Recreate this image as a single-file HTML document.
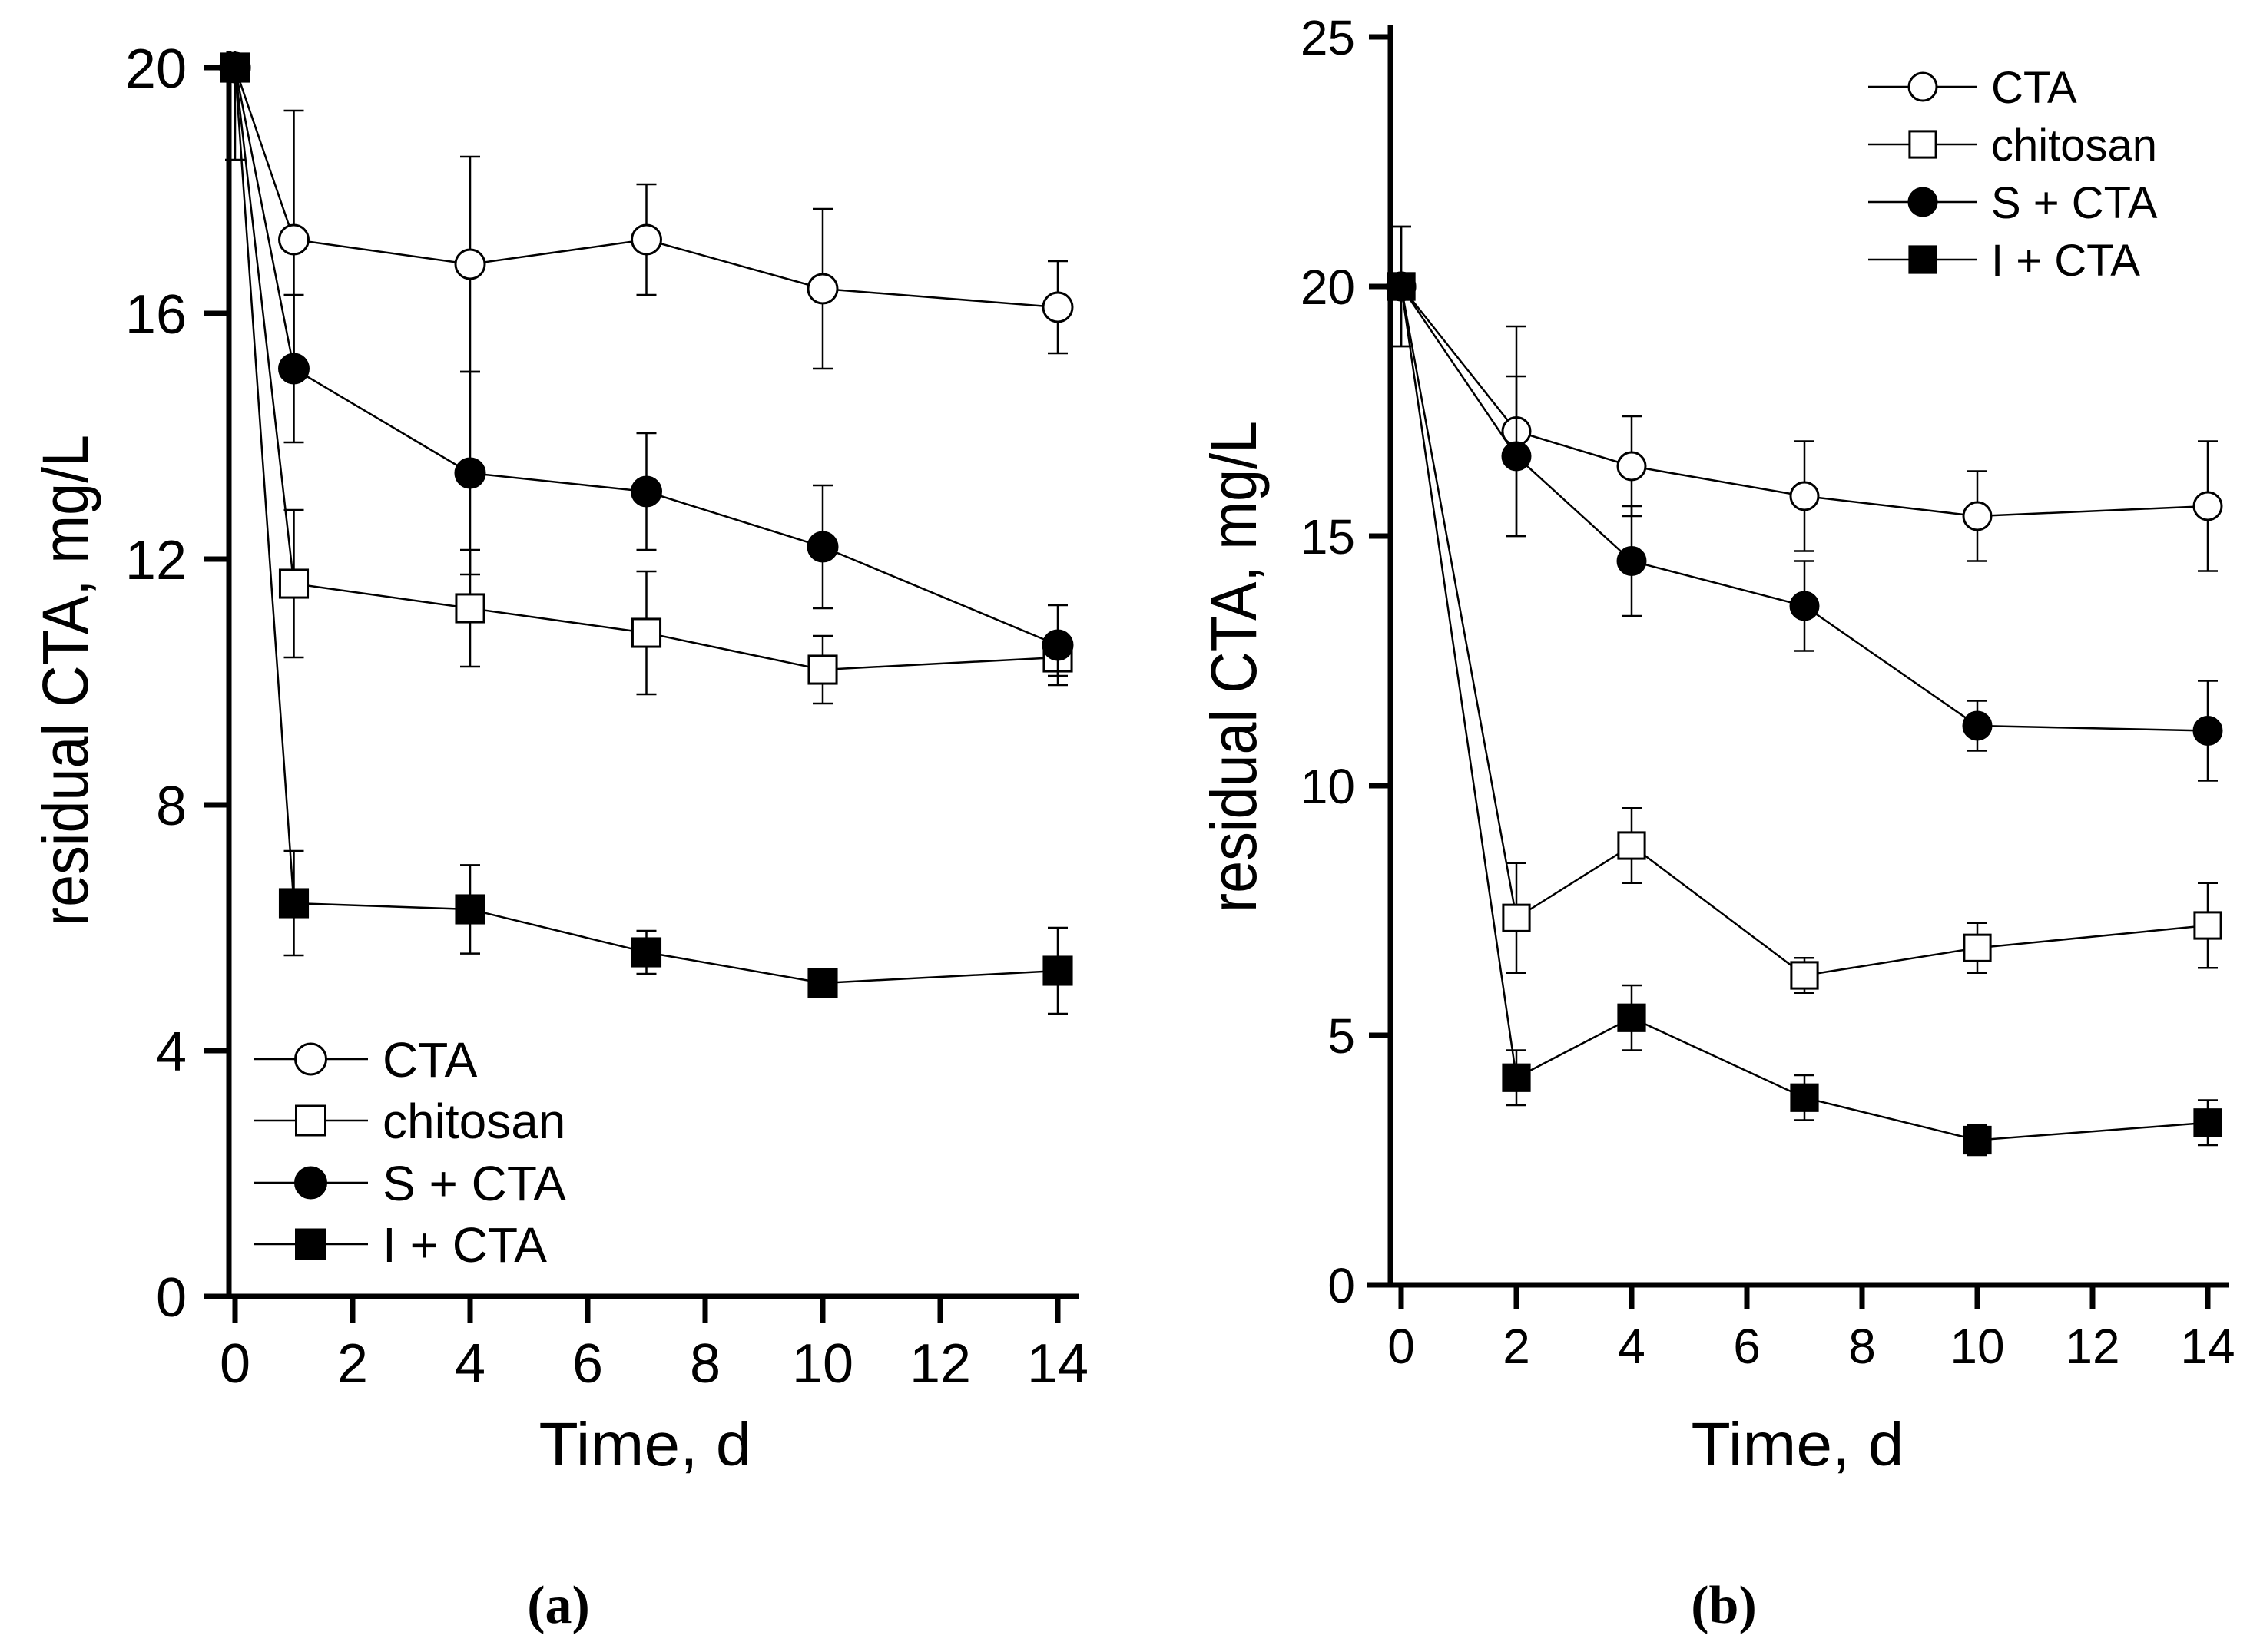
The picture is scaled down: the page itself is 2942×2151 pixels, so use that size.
<!DOCTYPE html>
<html><head><meta charset="utf-8"><style>
html,body{margin:0;padding:0;background:#fff;}
svg{display:block;}
text{font-family:"Liberation Sans",sans-serif;fill:#000;}
</style></head><body>
<svg id="fig" width="2942" height="2151" viewBox="0 0 2942 2151" xmlns="http://www.w3.org/2000/svg"></svg>
<script>
// Panel (a)
const daysA = [0, 1, 4, 7, 10, 14];
const ctaA = [20, 17.2, 16.8, 17.2, 16.4, 16.1];
const ctaErrA = [0, 2.1, 1.75, 0.9, 1.3, 0.75];
const chitA = [20, 11.6, 11.2, 10.8, 10.2, 10.4];
const chitErrA = [1.5, 1.2, 0.95, 1.0, 0.55, 0.3];
const sA = [20, 15.1, 13.4, 13.1, 12.2, 10.6];
const sErrA = [0, 1.2, 1.65, 0.95, 1.0, 0.65];
const iA = [20, 6.4, 6.3, 5.6, 5.1, 5.3];
const iErrA = [0, 0.85, 0.72, 0.35, 0.15, 0.7];
const yTicksA = [0, 4, 8, 12, 16, 20];
// Panel (b)
const daysB = [0, 2, 4, 7, 10, 14];
const ctaB = [20, 17.1, 16.4, 15.8, 15.4, 15.6];
const ctaErrB = [1.2, 2.1, 1.0, 1.1, 0.9, 1.3];
const chitB = [20, 7.35, 8.8, 6.2, 6.75, 7.2];
const chitErrB = [1.2, 1.1, 0.75, 0.35, 0.5, 0.85];
const sB = [20, 16.6, 14.5, 13.6, 11.2, 11.1];
const sErrB = [0, 1.6, 1.1, 0.9, 0.5, 1.0];
const iB = [20, 4.15, 5.35, 3.75, 2.9, 3.25];
const iErrB = [0, 0.55, 0.65, 0.45, 0.3, 0.45];
const yTicksB = [0, 5, 10, 15, 20, 25];
const xTicks = [0, 2, 4, 6, 8, 10, 12, 14];
const seriesNames = ["CTA", "chitosan", "S + CTA", "I + CTA"];

const NS = "http://www.w3.org/2000/svg";
const svg = document.getElementById("fig");
function mk(tag, attrs, parent, txt) {
  const e = document.createElementNS(NS, tag);
  for (const k in attrs) e.setAttribute(k, attrs[k]);
  if (txt !== undefined) e.textContent = txt;
  (parent || svg).appendChild(e);
  return e;
}
function marker(g, kind, cx, cy, r, name) {
  let m;
  if (kind === 0 || kind === 2) {
    m = mk("circle", {cx: cx, cy: cy, r: r, fill: kind === 2 ? "#000" : "#fff", stroke: "#000", "stroke-width": 3}, g);
  } else {
    const s = r * 0.95;
    m = mk("rect", {x: cx - s, y: cy - s, width: 2 * s, height: 2 * s, fill: kind === 3 ? "#000" : "#fff", stroke: "#000", "stroke-width": 3}, g);
  }
  
  
  return m;
}

function panel(cfg) {
  const g = mk("g", {});
  
  
  const X = v => cfg.x0 + (v - 0) * (cfg.x14 - cfg.x0) / 14;
  const Y = v => cfg.y0 - v * (cfg.y0 - cfg.yTop) / cfg.yMax;
  const ax = mk("g", {}, g);
  
  
  mk("line", {x1: cfg.axX, y1: cfg.axTop, x2: cfg.axX, y2: cfg.y0 + 3, stroke: "#000", "stroke-width": 7}, ax);
  mk("line", {x1: cfg.axLeft, y1: cfg.y0, x2: cfg.axRight, y2: cfg.y0, stroke: "#000", "stroke-width": 7}, ax);
  cfg.yTicks.forEach(t => {
    mk("line", {x1: cfg.axX - cfg.tick, y1: Y(t), x2: cfg.axX, y2: Y(t), stroke: "#000", "stroke-width": 7}, ax);
    const tl = mk("text", {x: cfg.yLabRight, y: Y(t) + cfg.tf * 0.36, "font-size": cfg.tf, "text-anchor": "end"}, ax, String(t));
    
    
  });
  xTicks.forEach(t => {
    mk("line", {x1: X(t), y1: cfg.y0, x2: X(t), y2: cfg.y0 + cfg.tick + 3, stroke: "#000", "stroke-width": 7}, ax);
    const tl = mk("text", {x: X(t), y: cfg.xLabBase, "font-size": cfg.tf, "text-anchor": "middle"}, ax, String(t));
    
    
  });
  const xt = mk("text", {x: cfg.xTitleX, y: 1908, "font-size": 80, "text-anchor": "middle", textLength: 277, lengthAdjust: "spacingAndGlyphs"}, g, "Time, d");
  
  
  const yt = mk("text", {x: 0, y: 0, "font-size": 84, "text-anchor": "middle", textLength: 640, lengthAdjust: "spacingAndGlyphs", transform: `translate(${cfg.yTitleX},${cfg.yTitleY}) rotate(-90)`}, g, "residual CTA, mg/L");
  
  
  const cap = mk("text", {x: cfg.capX, y: 2113, "font-size": 70, "font-weight": "bold", "text-anchor": "middle", style: 'font-family:"Liberation Serif",serif'}, g, cfg.caption);
  
  

  cfg.series.forEach((s, k) => {
    const sg = mk("g", {}, g);
    
    
    const pts = cfg.days.map((d, i) => X(d) + "," + Y(s.v[i])).join(" ");
    mk("polyline", {points: pts, fill: "none", stroke: "#000", "stroke-width": 2.5}, sg);
    cfg.days.forEach((d, i) => {
      const e = s.e[i];
      if (e > 0) {
        const eg = mk("g", {stroke: "#000", "stroke-width": 2.5}, sg);
        
        
        let top = Y(s.v[i] + e);
        const clipped = top < cfg.axTop;
        if (clipped) top = cfg.axTop;
        mk("line", {x1: X(d), y1: top, x2: X(d), y2: Y(s.v[i] - e)}, eg);
        if (!clipped) mk("line", {x1: X(d) - 13, y1: top, x2: X(d) + 13, y2: top}, eg);
        mk("line", {x1: X(d) - 13, y1: Y(s.v[i] - e), x2: X(d) + 13, y2: Y(s.v[i] - e)}, eg);
      }
    });
    cfg.days.forEach((d, i) => marker(sg, k, X(d), Y(s.v[i]), cfg.mr, 'data-point'));
  });

  const lg = mk("g", {}, g);
  
  
  seriesNames.forEach((n, k) => {
    const y = cfg.legY[k];
    const le = mk("g", {}, lg);
    
    
    mk("line", {x1: cfg.legL, y1: y, x2: cfg.legR, y2: y, stroke: "#000", "stroke-width": 2.5}, le);
    marker(le, k, (cfg.legL + cfg.legR) / 2, y, cfg.legMr, 'legend-marker');
    mk("text", {x: cfg.legText, y: y + cfg.legF * 0.36, "font-size": cfg.legF}, le, n);
  });
}

panel({
  name: "panel-a", caption: "(a)", capX: 727,
  days: daysA, yTicks: yTicksA, yMax: 20,
  x0: 306, x14: 1377, y0: 1688, yTop: 88,
  axX: 298, axTop: 67, axLeft: 268, axRight: 1405, tick: 32,
  tf: 72, yLabRight: 243, xLabBase: 1800,
  xTitleX: 840, yTitleX: 114, yTitleY: 886, mr: 19,
  series: [{v: ctaA, e: ctaErrA}, {v: chitA, e: chitErrA}, {v: sA, e: sErrA}, {v: iA, e: iErrA}],
  legY: [1379, 1459, 1540, 1620], legL: 330, legR: 479, legText: 498, legF: 64, legMr: 20
});
panel({
  name: "panel-b", caption: "(b)", capX: 2244,
  days: daysB, yTicks: yTicksB, yMax: 25,
  x0: 1824, x14: 2874, y0: 1673, yTop: 48,
  axX: 1810, axTop: 32, axLeft: 1779, axRight: 2902, tick: 28,
  tf: 64, yLabRight: 1764, xLabBase: 1775,
  xTitleX: 2340, yTitleX: 1635, yTitleY: 868, mr: 18,
  series: [{v: ctaB, e: ctaErrB}, {v: chitB, e: chitErrB}, {v: sB, e: sErrB}, {v: iB, e: iErrB}],
  legY: [113, 188, 263, 338], legL: 2432, legR: 2574, legText: 2592, legF: 58, legMr: 18
});
</script>
</body></html>
